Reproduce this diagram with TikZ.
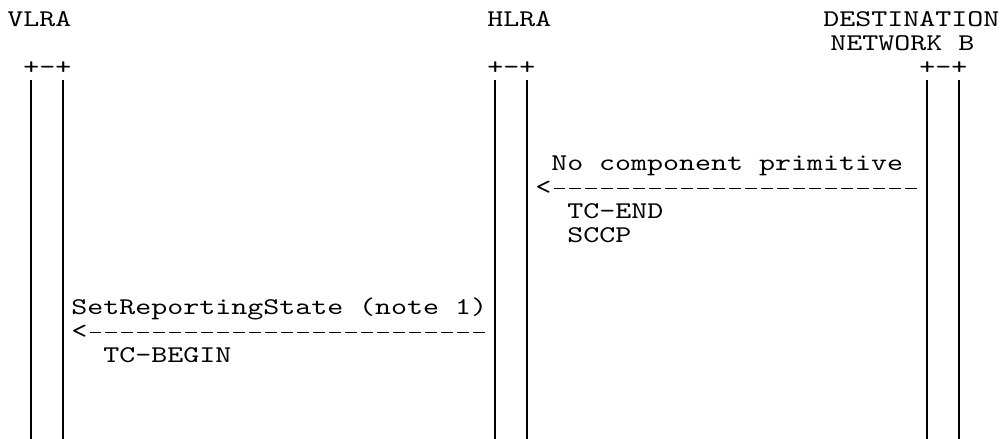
\documentclass[tikz,border=0pt]{standalone}
\usepackage{fontspec}
\newfontfamily\asciifont[FakeStretch=1.2698]{lmmono10-regular.otf}
\usetikzlibrary{arrows.meta}

\begin{document}
\begin{tikzpicture}[x=12pt, y=-18pt,
    txt/.style={anchor=base west, inner sep=0pt,
        font=\asciifont\fontsize{18}{18}\selectfont},
    life/.style={line width=1pt},
    msg/.style={line width=1pt, dash pattern=on 8.75pt off 3.25pt,
        shorten <=7.7pt, shorten >=1.7pt}]
    \useasboundingbox (-0.4375,-0.32) rectangle (62.0625,17.97);
    % entities
    \node[txt] (vlra) at (0,0.8) {VLRA};
    \node[txt] (hlra) at (30,0.8) {HLRA};
    \node[txt] (dest) at (51,0.8) {DESTINATION};
    \node[txt] (destb) at (51.45,1.8) {NETWORK B};
    \node[txt] (vhead) at (1,2.8) {+-+};
    \node[txt] (hhead) at (30,2.8) {+-+};
    \node[txt] (dhead) at (57,2.8) {+-+};
    % lifelines
    \foreach \c/\n in {1/v1,3/v2,30/h1,32/h2,57/d1,59/d2} {
        \coordinate (\n) at (\c+0.5,3.02);
        \draw[life] (\n) -- (\c+0.5,18);
    }
    \coordinate (r7) at (0,7.53);
    \coordinate (r13) at (0,13.53);
    % TC-END from destination network
    \node[txt] (endprim) at (34,6.8) {No component primitive};
    \node[txt] (tip1) at (33,7.8) {<};
    \draw[msg] (d1 |- r7) -- (tip1.east |- r7);
    \node[txt] (tcend) at (35,8.8) {TC-END};
    \node[txt] (sccp) at (35,9.8) {SCCP};
    % TC-BEGIN to VLRA
    \node[txt] (setrep) at (4,12.8) {SetReportingState (note 1)};
    \node[txt] (tip2) at (4,13.8) {<};
    \draw[msg] (h1 |- r13) -- (tip2.east |- r13);
    \node[txt] (tcbegin) at (6,14.8) {TC-BEGIN};
\end{tikzpicture}
\end{document}
